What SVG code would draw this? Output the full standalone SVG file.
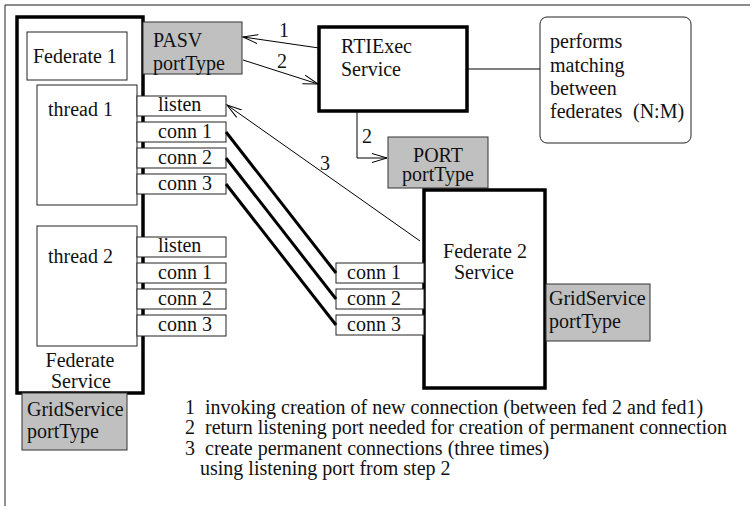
<svg xmlns="http://www.w3.org/2000/svg" width="753" height="506" viewBox="0 0 753 506">
<style>
.thin{fill:#fff;stroke:#222;stroke-width:1}
.thick{fill:#fff;stroke:#000;stroke-width:3.5}
.gray{fill:#c0c0c0;stroke:#333;stroke-width:1}
.ln{fill:none;stroke:#000;stroke-width:1}
.bold{fill:none;stroke:#000;stroke-width:3}
.t{font-family:'Liberation Serif',serif;font-size:20px;fill:#111}
</style>
<defs>
<marker id="arr" markerUnits="userSpaceOnUse" markerWidth="18" markerHeight="12" refX="15" refY="5" orient="auto">
<path d="M0,0.5 L15,5 L0,9.5" fill="none" stroke="#000" stroke-width="1"/>
</marker>
</defs>
<g id="frame">
<line x1="5" y1="5" x2="750" y2="5" stroke="#666" stroke-width="1.5"/>
<line x1="5" y1="5" x2="5" y2="506" stroke="#222" stroke-width="1"/>
</g>
<g id="federate-service">
<rect class="thick" x="17" y="17" width="126" height="376"/>
<text class="t" font-family="'Liberation Serif', serif" x="80" y="367" text-anchor="middle">Federate</text>
<text class="t" font-family="'Liberation Serif', serif" x="81" y="388" text-anchor="middle">Service</text>
</g>
<g id="federate1">
<rect class="thin" x="27" y="32" width="100" height="48"/>
<text class="t" font-family="'Liberation Serif', serif" x="33" y="63">Federate 1</text>
</g>
<g id="thread1">
<rect class="thin" x="37" y="85" width="100" height="120"/>
<text class="t" font-family="'Liberation Serif', serif" x="48" y="116">thread 1</text>
</g>
<g id="thread2">
<rect class="thin" x="37" y="226" width="100" height="120"/>
<text class="t" font-family="'Liberation Serif', serif" x="48" y="263">thread 2</text>
</g>
<g id="t1-ports">
<rect class="thin" x="137" y="96" width="89" height="20"/><text class="t" font-family="'Liberation Serif', serif" x="158" y="111">listen</text>
<rect class="thin" x="137" y="122" width="89" height="20"/><text class="t" font-family="'Liberation Serif', serif" x="158" y="138">conn 1</text>
<rect class="thin" x="137" y="148" width="89" height="20"/><text class="t" font-family="'Liberation Serif', serif" x="158" y="164">conn 2</text>
<rect class="thin" x="137" y="174" width="89" height="20"/><text class="t" font-family="'Liberation Serif', serif" x="158" y="190">conn 3</text>
</g>
<g id="t2-ports">
<rect class="thin" x="137" y="237" width="89" height="20"/><text class="t" font-family="'Liberation Serif', serif" x="158" y="252">listen</text>
<rect class="thin" x="137" y="263" width="89" height="20"/><text class="t" font-family="'Liberation Serif', serif" x="158" y="279">conn 1</text>
<rect class="thin" x="137" y="289" width="89" height="20"/><text class="t" font-family="'Liberation Serif', serif" x="158" y="305">conn 2</text>
<rect class="thin" x="137" y="315" width="89" height="21"/><text class="t" font-family="'Liberation Serif', serif" x="158" y="331">conn 3</text>
</g>
<g id="pasv">
<rect class="gray" x="143" y="22" width="99" height="52"/>
<text class="t" font-family="'Liberation Serif', serif" x="153" y="47">PASV</text>
<text class="t" font-family="'Liberation Serif', serif" x="153" y="70">portType</text>
</g>
<g id="grid-left">
<rect class="gray" x="22" y="393" width="105" height="57"/>
<text class="t" font-family="'Liberation Serif', serif" x="27" y="416">GridService</text>
<text class="t" font-family="'Liberation Serif', serif" x="27" y="438">portType</text>
</g>
<g id="rtiexec">
<rect class="thick" x="319" y="27" width="148" height="84"/>
<text class="t" font-family="'Liberation Serif', serif" x="341" y="53">RTIExec</text>
<text class="t" font-family="'Liberation Serif', serif" x="341" y="76">Service</text>
</g>
<g id="note">
<rect class="thin" x="540" y="17" width="151" height="126" rx="7"/>
<text class="t" font-family="'Liberation Serif', serif" x="550" y="48">performs</text>
<text class="t" font-family="'Liberation Serif', serif" x="550" y="72">matching</text>
<text class="t" font-family="'Liberation Serif', serif" x="550" y="95">between</text>
<text class="t" font-family="'Liberation Serif', serif" x="550" y="118">federates</text>
<text class="t" font-family="'Liberation Serif', serif" x="633" y="118">(N:M)</text>
</g>
<g id="port">
<rect class="gray" x="388" y="137" width="100" height="51"/>
<text class="t" font-family="'Liberation Serif', serif" x="438" y="162" text-anchor="middle">PORT</text>
<text class="t" font-family="'Liberation Serif', serif" x="438" y="181" text-anchor="middle">portType</text>
</g>
<g id="federate2">
<rect class="thick" x="424" y="190" width="121" height="198"/>
<text class="t" font-family="'Liberation Serif', serif" x="485" y="258" text-anchor="middle">Federate 2</text>
<text class="t" font-family="'Liberation Serif', serif" x="484" y="279" text-anchor="middle">Service</text>
</g>
<g id="f2-ports">
<rect class="thin" x="336" y="263" width="88" height="20"/><text class="t" font-family="'Liberation Serif', serif" x="347" y="279">conn 1</text>
<rect class="thin" x="336" y="289" width="88" height="20"/><text class="t" font-family="'Liberation Serif', serif" x="347" y="305">conn 2</text>
<rect class="thin" x="336" y="315" width="88" height="20"/><text class="t" font-family="'Liberation Serif', serif" x="347" y="331">conn 3</text>
</g>
<g id="grid-right">
<rect class="gray" x="546" y="284" width="104" height="57"/>
<text class="t" font-family="'Liberation Serif', serif" x="549" y="305">GridService</text>
<text class="t" font-family="'Liberation Serif', serif" x="549" y="328">portType</text>
</g>
<g id="connectors">
<line class="ln" x1="319" y1="48" x2="243" y2="37" marker-end="url(#arr)"/>
<line class="ln" x1="243" y1="60" x2="318" y2="84" marker-end="url(#arr)"/>
<path class="ln" d="M357,111 V158 H387" marker-end="url(#arr)"/>
<line class="ln" x1="467" y1="69" x2="540" y2="69"/>
<line class="ln" x1="420" y1="241" x2="227" y2="105" marker-end="url(#arr)"/>
<line class="bold" x1="226" y1="132" x2="336" y2="273"/>
<line class="bold" x1="226" y1="158" x2="336" y2="299"/>
<line class="bold" x1="226" y1="184" x2="336" y2="325"/>
<text class="t" font-family="'Liberation Serif', serif" x="279" y="37">1</text>
<text class="t" font-family="'Liberation Serif', serif" x="277" y="68">2</text>
<text class="t" font-family="'Liberation Serif', serif" x="362" y="143">2</text>
<text class="t" font-family="'Liberation Serif', serif" x="320" y="170">3</text>
</g>
<g id="legend">
<text class="t" font-family="'Liberation Serif', serif" x="185" y="414" xml:space="preserve">1  invoking creation of new connection (between fed 2 and fed1)</text>
<text class="t" font-family="'Liberation Serif', serif" x="185" y="434" xml:space="preserve">2  return listening port needed for creation of permanent connection</text>
<text class="t" font-family="'Liberation Serif', serif" x="185" y="455" xml:space="preserve">3  create permanent connections (three times)</text>
<text class="t" font-family="'Liberation Serif', serif" x="200" y="475">using listening port from step 2</text>
</g>
</svg>
